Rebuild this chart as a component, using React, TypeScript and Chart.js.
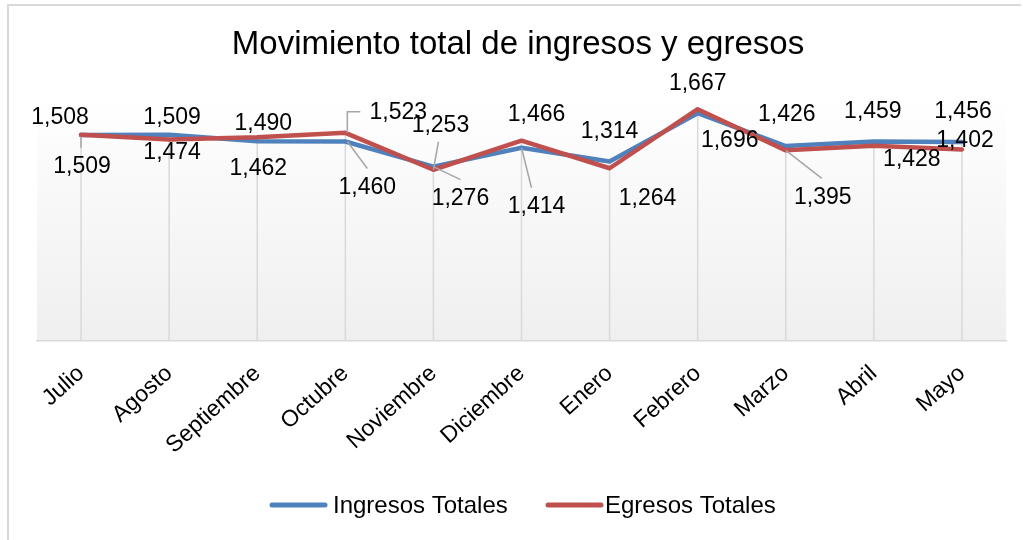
import React, { useEffect, useRef } from "react";
import { Chart, registerables } from "chart.js";

Chart.register(...registerables);

const months = ["Julio", "Agosto", "Septiembre", "Octubre", "Noviembre", "Diciembre", "Enero", "Febrero", "Marzo", "Abril", "Mayo"];
const ingresos = [1508, 1509, 1462, 1460, 1276, 1414, 1314, 1667, 1426, 1459, 1456];
const egresos = [1509, 1474, 1490, 1523, 1253, 1466, 1264, 1696, 1395, 1428, 1402];
const yMin = 0;
const yMax = 1800;
const titleText = "Movimiento total de ingresos y egresos";
const seriesNames = ["Ingresos Totales", "Egresos Totales"];

// data-label placement (offsets from each point, in px)
const ingresosLabelOffsets = [[-21, -17], [3, -17], [1, 27], [22, 46], [27, 32], [15, 59], [0, -30], [0, -30], [1, -31], [-1, -30], [1, -30]];
const egresosLabelOffsets = [[1, 32], [3, 13], [6, -14], [53, -20], [7, -44], [15, -26], [38, 30], [32, 31], [37, 47], [38, 14], [3, -9]];
const ingresosLeaders: Record<number, number[][]> = { 3: [[2, 0], [22, 27]], 4: [[0, 0], [27, 13]], 5: [[0, 0], [10, 40]] };
const egresosLeaders: Record<number, number[][]> = { 0: [[0, 2], [0, 13]], 3: [[2, 0], [2, -21], [15, -21]], 4: [[0, 0], [5, -28]], 8: [[0, 0], [36, 28]] };

const FONT = '"Liberation Sans", Arial, sans-serif';
const BLUE = "#4f81bd";
const RED = "#c0504d";

const labelOffsets = [ingresosLabelOffsets, egresosLabelOffsets];
const leaders = [ingresosLeaders, egresosLeaders];

const decor = {
  id: "decor",
  beforeDraw(chart: any) {
    const { ctx, chartArea: a } = chart;
    ctx.save();
    ctx.fillStyle = "#ffffff";
    ctx.fillRect(0, 0, chart.width, chart.height);
    ctx.strokeStyle = "#d9d9d9";
    ctx.lineWidth = 2;
    ctx.beginPath();
    ctx.moveTo(8, 545);
    ctx.lineTo(8, 5);
    ctx.lineTo(1021, 5);
    ctx.stroke();
    const g = ctx.createLinearGradient(0, a.top, 0, a.bottom);
    g.addColorStop(0, "#ffffff");
    g.addColorStop(1, "#efefef");
    ctx.fillStyle = g;
    ctx.fillRect(a.left, a.top, a.right - a.left, a.bottom - a.top);
    ctx.restore();
  },
  beforeDatasetsDraw(chart: any) {
    const { ctx, chartArea: a } = chart;
    const m0 = chart.getDatasetMeta(0).data;
    const m1 = chart.getDatasetMeta(1).data;
    ctx.save();
    ctx.strokeStyle = "#d9d9d9";
    ctx.lineWidth = 1.5;
    for (let i = 0; i < m0.length; i++) {
      const top = Math.min(m0[i].y, m1[i].y);
      ctx.beginPath();
      ctx.moveTo(m0[i].x, top);
      ctx.lineTo(m0[i].x, a.bottom);
      ctx.stroke();
    }
    ctx.restore();
  },
  afterDatasetsDraw(chart: any) {
    const { ctx } = chart;
    ctx.save();
    for (let d = 0; d < 2; d++) {
      const pts = chart.getDatasetMeta(d).data;
      const vals = chart.data.datasets[d].data;
      ctx.strokeStyle = "#a6a6a6";
      ctx.lineWidth = 1.5;
      Object.keys(leaders[d]).forEach((k) => {
        const i = Number(k);
        const path = leaders[d][i];
        ctx.beginPath();
        path.forEach((p, j) => {
          const x = pts[i].x + p[0];
          const y = pts[i].y + p[1];
          if (j === 0) ctx.moveTo(x, y);
          else ctx.lineTo(x, y);
        });
        ctx.stroke();
      });
      ctx.fillStyle = "#000000";
      ctx.font = `23px ${FONT}`;
      ctx.textAlign = "center";
      ctx.textBaseline = "middle";
      for (let i = 0; i < pts.length; i++) {
        const off = labelOffsets[d][i];
        ctx.fillText(Number(vals[i]).toLocaleString("en-US"), pts[i].x + off[0], pts[i].y + off[1]);
      }
    }
    ctx.restore();
  },
  afterDraw(chart: any) {
    const { ctx } = chart;
    ctx.save();
    ctx.fillStyle = "#000000";
    ctx.font = `33px ${FONT}`;
    ctx.textAlign = "center";
    ctx.textBaseline = "middle";
    ctx.fillText(titleText, 518, 45);
    // legend
    const items = [
      { color: BLUE, x0: 272, x1: 325, tx: 333, label: seriesNames[0] },
      { color: RED, x0: 548, x1: 601, tx: 605, label: seriesNames[1] },
    ];
    ctx.font = `24px ${FONT}`;
    ctx.textAlign = "left";
    items.forEach((it) => {
      ctx.strokeStyle = it.color;
      ctx.lineWidth = 5;
      ctx.lineCap = "round";
      ctx.beginPath();
      ctx.moveTo(it.x0, 505);
      ctx.lineTo(it.x1, 505);
      ctx.stroke();
      ctx.fillText(it.label, it.tx, 506);
    });
    ctx.restore();
  },
};

export default function App() {
  const ref = useRef<HTMLCanvasElement | null>(null);
  useEffect(() => {
    if (!ref.current) return;
    const chart = new Chart(ref.current, {
      type: "line",
      data: {
        labels: months,
        datasets: [
          {
            label: seriesNames[0],
            data: ingresos,
            borderColor: BLUE,
            backgroundColor: BLUE,
            borderWidth: 4.5,
            pointRadius: 0,
            tension: 0,
            borderJoinStyle: "round",
            borderCapStyle: "round",
            order: 1,
          },
          {
            label: seriesNames[1],
            data: egresos,
            borderColor: RED,
            backgroundColor: RED,
            borderWidth: 4.5,
            pointRadius: 0,
            tension: 0,
            borderJoinStyle: "round",
            borderCapStyle: "round",
            order: 0,
          },
        ],
      },
      options: {
        responsive: false,
        animation: false,
        devicePixelRatio: 1,
        layout: { padding: { left: 37, right: 17, top: 95, bottom: 0 } },
        plugins: {
          legend: { display: false },
          title: { display: false },
          tooltip: { enabled: false },
        },
        scales: {
          x: {
            offset: true,
            grid: { display: false, drawTicks: false },
            border: { display: true, color: "#d9d9d9", width: 1.5 },
            ticks: {
              autoSkip: false,
              maxRotation: 42,
              minRotation: 42,
              padding: 19,
              color: "#000000",
              font: { size: 23, family: FONT },
            },
            afterFit: (s: any) => {
              s.height = 199;
            },
          },
          y: { display: false, min: yMin, max: yMax },
        },
      },
      plugins: [decor],
    } as any);
    return () => chart.destroy();
  }, []);
  return (
    <div style={{ position: "fixed", left: 0, top: 0, width: 1023, height: 540 }}>
      <canvas ref={ref} width={1023} height={540} />
    </div>
  );
}
